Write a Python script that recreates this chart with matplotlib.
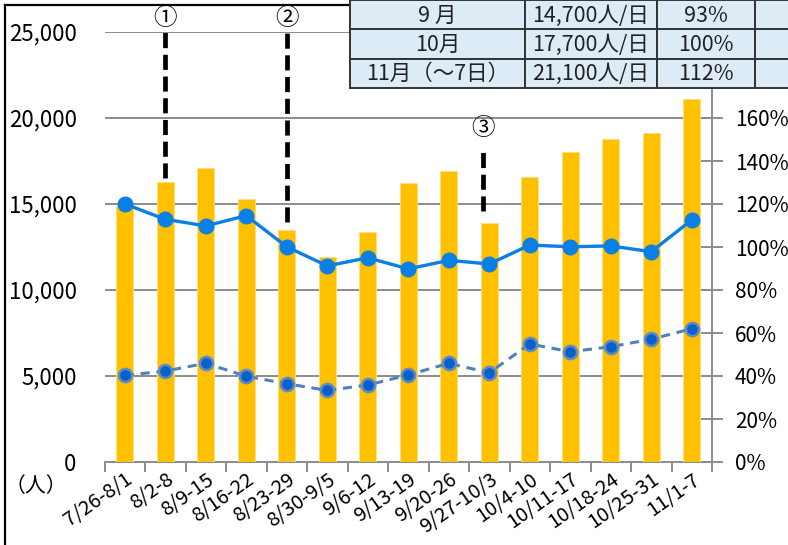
import matplotlib

matplotlib.use("Agg")
import matplotlib.pyplot as plt
from matplotlib.patches import Rectangle
from matplotlib.lines import Line2D
from matplotlib.ticker import FuncFormatter

plt.rcParams["font.family"] = ["Noto Sans CJK JP", "DejaVu Sans"]

# ==========================================
# Data
# ==========================================
weeks = ["7/26-8/1", "8/2-8", "8/9-15", "8/16-22", "8/23-29", "8/30-9/5", "9/6-12",
         "9/13-19", "9/20-26", "9/27-10/3", "10/4-10", "10/11-17", "10/18-24",
         "10/25-31", "11/1-7"]
visitors = [14900, 16300, 17100, 15300, 13500, 11900, 13400, 16200, 16900, 13900,
            16550, 18000, 18800, 19100, 21100]
ratio_solid = [120.0, 112.9, 109.8, 114.6, 100.1, 91.2, 95.0, 89.8, 93.8, 92.1,
               100.9, 100.1, 100.5, 97.8, 112.6]
ratio_dashed = [40.3, 42.3, 45.9, 39.9, 36.4, 33.3, 35.8, 40.5, 45.9, 41.5,
                54.9, 51.3, 53.6, 57.1, 62.0]

left_ticks = [0, 5000, 10000, 15000, 20000, 25000]
right_ticks = [0, 20, 40, 60, 80, 100, 120, 140, 160, 180, 200]

# event markers (①②③) with their dashed guide lines
events = ["①", "②", "③"]
event_x = [1, 4, 8.85]
event_top = [25000, 25000, 18000]
event_bottom = [16500, 13950, 14600]
event_label_y = [25800, 25800, 19400]

# summary table (top right, cropped by the image edge)
table_month = ["9 月", "10月", "11月（～7日）"]
table_daily = ["14,700人/日", "17,700人/日", "21,100人/日"]
table_pct = ["93%", "100%", "112%"]
table_extra = ["35.5%", "50%", "(62%)"]

# ==========================================
# Layout (pixel based, 788 x 545)
# ==========================================
W, H = 788, 545
fig = plt.figure(figsize=(W / 100, H / 100), dpi=100)
fig.patch.set_facecolor("white")


def fx(x):
    return x / W


def fy(y):
    return 1 - y / H


ax_l, ax_r, ax_t, ax_b = 104.5, 712, 32, 462
ax = fig.add_axes([fx(ax_l), fy(ax_b), (ax_r - ax_l) / W, (ax_b - ax_t) / H])
ax2 = ax.twinx()

n = len(weeks)
xs = list(range(n))

# bars
ax.bar(xs, visitors, width=0.43, color="#FFC000", edgecolor="#FFE07A",
       linewidth=0.6, zorder=3)
ax.set_ylim(0, 25000)
ax.set_xlim(-0.5, n - 0.5)
ax.set_yticks(left_ticks)
ax.yaxis.set_major_formatter(FuncFormatter(lambda v, p: f"{int(v):,}"))
ax.grid(axis="y", color="#8C8C8C", linewidth=1.4, zorder=0)
ax.set_axisbelow(True)

# x ticks at category boundaries, labels at centers
ax.set_xticks([i - 0.5 for i in range(n + 1)])
ax.set_xticklabels([])
ax.set_xticks(xs, minor=True)
ax.set_xticklabels(weeks, minor=True, rotation=35, ha="right",
                   rotation_mode="anchor", fontsize=14.5)
ax.tick_params(axis="x", which="major", direction="out", length=7,
               width=1.4, color="#8C8C8C")
ax.tick_params(axis="x", which="minor", length=0, pad=5)
ax.tick_params(axis="y", length=0, labelsize=16, pad=20)

for s in ["top", "left", "right"]:
    ax.spines[s].set_visible(False)
ax.spines["bottom"].set_color("#8C8C8C")
ax.spines["bottom"].set_linewidth(1.4)

# lines on the percentage axis
ax2.plot(xs, ratio_solid, color="#0A7FE6", linewidth=2.4, marker="o",
         markersize=10.5, markerfacecolor="#0A7FE6", markeredgecolor="#0A7FE6",
         zorder=5)
ax2.plot(xs, ratio_dashed, color="#4F81BD", linewidth=2.2, linestyle=(0, (3, 2.2)),
         marker="o", markersize=9.5, markerfacecolor="#0A60C8",
         markeredgecolor="#5B8CC8", markeredgewidth=1.8, zorder=5)
ax2.set_ylim(0, 200)
ax2.set_yticks(right_ticks)
ax2.yaxis.set_major_formatter(FuncFormatter(lambda v, p: f"{int(v)}%"))
ax2.tick_params(axis="y", direction="inout", length=16, width=1.4,
                color="#8C8C8C", labelsize=15, pad=8.5)
for s in ["top", "left", "bottom"]:
    ax2.spines[s].set_visible(False)
ax2.spines["right"].set_color("#8C8C8C")
ax2.spines["right"].set_linewidth(1.4)

# event guide lines
for lab, ex, et, eb, ly in zip(events, event_x, event_top, event_bottom, event_label_y):
    ax.plot([ex, ex], [eb, et], color="black", linewidth=3.4,
            linestyle=(0, (3.2, 1.4)), zorder=4, clip_on=False)
    ax.text(ex, ly, lab, ha="center", va="center", fontsize=17, zorder=6)

# unit label
fig.text(fx(36), fy(486), "（人）", ha="center", va="center", fontsize=15)

# outer frame (cropped at right / bottom)
fig.add_artist(Line2D([fx(5), fx(5)], [fy(5), fy(H + 5)], color="black", linewidth=1.6))
fig.add_artist(Line2D([fx(5), fx(350)], [fy(5), fy(5)], color="black", linewidth=1.6))

# ==========================================
# Summary table
# ==========================================
col_edges = [350, 525, 657, 755, 882]
row_edges = [-0.5, 29.5, 58.5, 87.5]
table_cols = [table_month, table_daily, table_pct, table_extra]

for r in range(len(row_edges) - 1):
    for c in range(len(col_edges) - 1):
        x0, x1 = col_edges[c], col_edges[c + 1]
        y0, y1 = row_edges[r], row_edges[r + 1]
        rect = Rectangle((fx(x0), fy(y1)), (x1 - x0) / W, (y1 - y0) / H,
                         transform=fig.transFigure, facecolor="#DDEBF7",
                         edgecolor="#333333", linewidth=1.4, zorder=10)
        fig.add_artist(rect)
        fig.text(fx((x0 + x1) / 2), fy((y0 + y1) / 2 + 1), table_cols[c][r],
                 ha="center", va="center", fontsize=15.5, color="#222222",
                 zorder=11)

fig.savefig("out.png", dpi=100)
